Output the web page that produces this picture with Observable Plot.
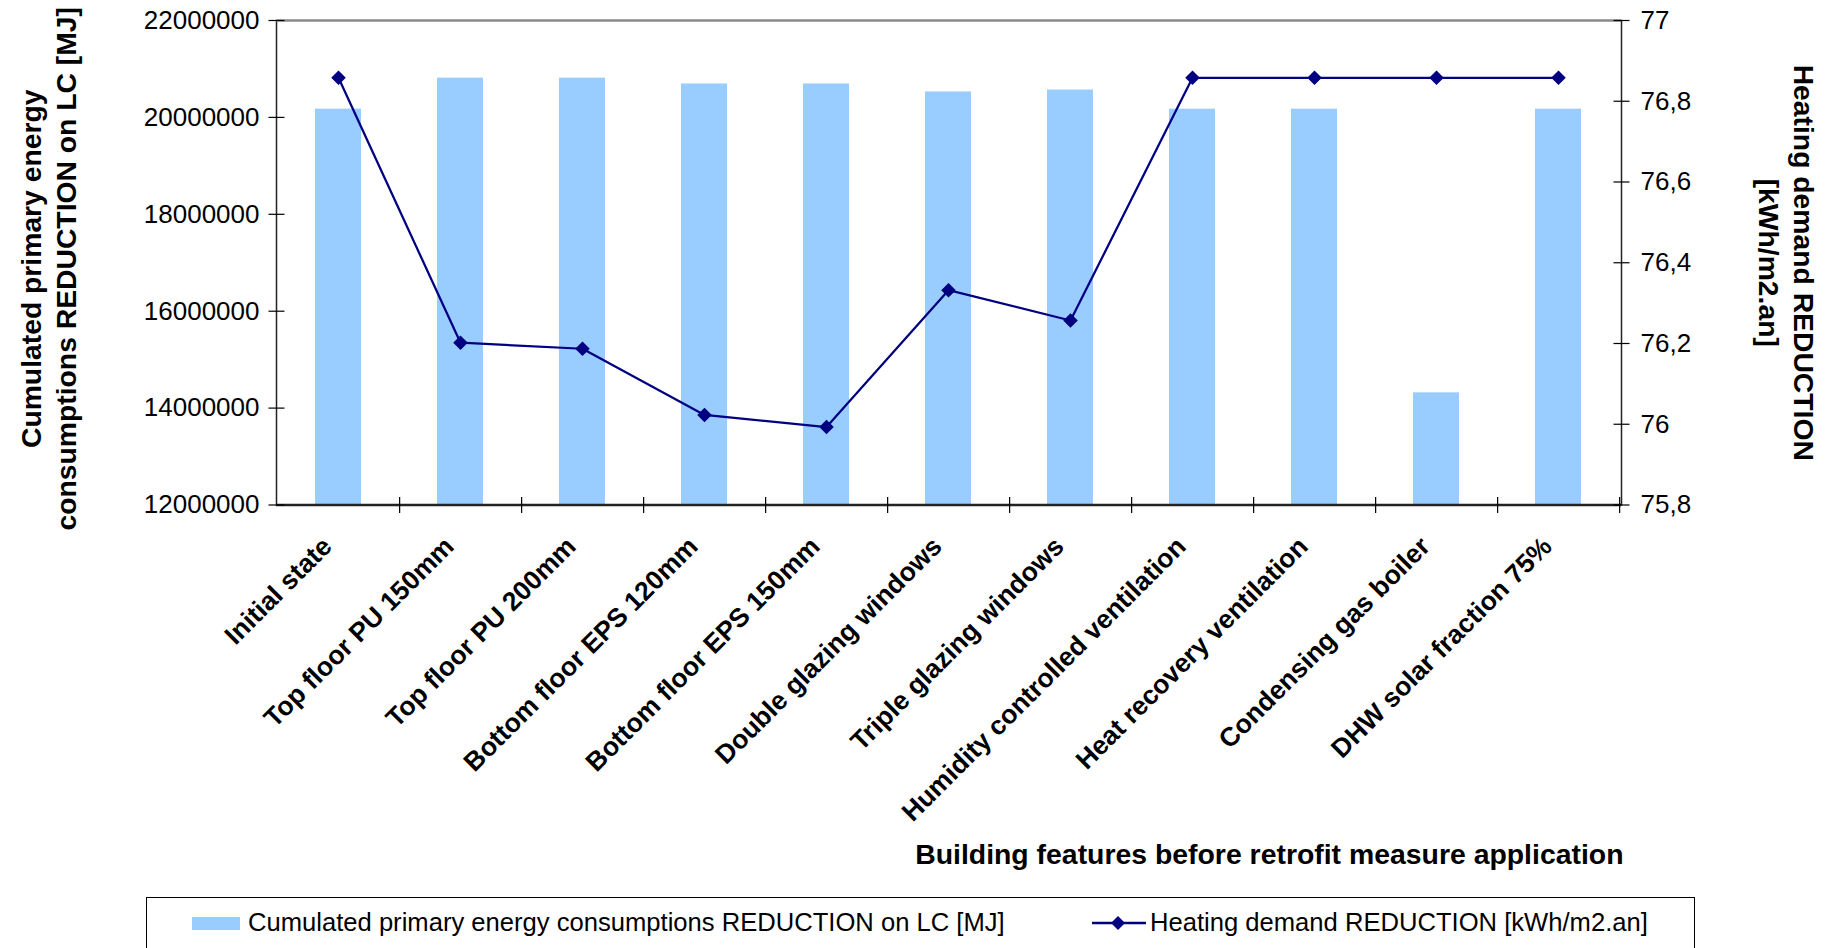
<!DOCTYPE html>
<html><head><meta charset="utf-8">
<script src="https://cdn.jsdelivr.net/npm/d3@7"></script>
<script src="https://cdn.jsdelivr.net/npm/@observablehq/plot@0.6"></script>
<style>
body{margin:0;background:#fff;font-family:"Liberation Sans",Arial,sans-serif;}
#wrap{position:relative;width:1827px;height:948px;overflow:hidden;background:#fff;}
#chart{position:absolute;left:0;top:0;}
#legendbox{position:absolute;left:146px;top:897px;width:1549px;height:80px;border:1px solid #000;box-sizing:border-box;}
.lg{position:absolute;font-size:25.6px;line-height:30px;color:#000;white-space:nowrap;}
.sw{position:absolute;}
</style></head><body>
<div id="wrap"><div id="chart"></div>
<div id="legendbox"></div>
<div class="sw" style="left:192px;top:917px;width:48px;height:13px;background:#99ccff"></div>
<div class="lg" id="lt1" style="left:248px;top:907px"></div>
<svg class="sw" style="left:1092px;top:910px" width="54" height="26"><line x1="0" y1="13" x2="54" y2="13" stroke="#000080" stroke-width="2.5"/><path d="M26,6 L33,13 L26,20 L19,13 Z" fill="#000080"/></svg>
<div class="lg" id="lt2" style="left:1150px;top:907px"></div>
</div>
<script>
const categories = ["Initial state","Top floor PU 150mm","Top floor PU 200mm","Bottom floor EPS 120mm","Bottom floor EPS 150mm","Double glazing windows","Triple glazing windows","Humidity controlled ventilation","Heat recovery ventilation","Condensing gas boiler","DHW solar fraction 75%"];
const energyReduction = [20170000,20810000,20810000,20690000,20690000,20525000,20565000,20170000,20170000,14315000,20170000];
const heatingReduction = [76.858,76.202,76.187,76.023,75.993,76.332,76.257,76.858,76.858,76.858,76.858];
const leftTicks = [12000000,14000000,16000000,18000000,20000000,22000000];
const rightTicks = [75.8,76,76.2,76.4,76.6,76.8,77];
const leftDomain = [12000000,22000000];
const rightDomain = [75.8,77];
const energyName = "Cumulated primary energy consumptions REDUCTION on LC [MJ]";
const heatingName = "Heating demand REDUCTION [kWh/m2.an]";
const leftTitle = "Cumulated primary energy\nconsumptions REDUCTION on LC [MJ]";
const rightTitle = "Heating demand REDUCTION\n[kWh/m2.an]";
const xTitle = "Building features before retrofit measure application";

document.getElementById("lt1").textContent = energyName;
document.getElementById("lt2").textContent = heatingName;

const toLeft = v => leftDomain[0] + (v - rightDomain[0]) / (rightDomain[1] - rightDomain[0]) * (leftDomain[1] - leftDomain[0]);
const toRight = v => rightDomain[0] + (v - leftDomain[0]) / (leftDomain[1] - leftDomain[0]) * (rightDomain[1] - rightDomain[0]);
const data = categories.map((c, i) => ({category: c, energy: energyReduction[i], heating: heatingReduction[i], heatingL: toLeft(heatingReduction[i])}));
const rightTicksL = rightTicks.map(toLeft);
const fmtRight = d => String(+toRight(d).toFixed(1)).replace(".", ",");

const W = 1827, H = 895, mL = 276, mR = 206, mT = 20, mB = H - 504.5;
const step = (W - mL - mR) / categories.length;
const font = "'Liberation Sans', Arial, sans-serif";

// custom tick symbols (crossing tick marks, 16px long)
const hTick = {draw(ctx) { ctx.moveTo(-8, 0); ctx.lineTo(8, 0); }};
const vTick = {draw(ctx) { ctx.moveTo(0, -8); ctx.lineTo(0, 8); }};

const chart = Plot.plot({
  width: W, height: H, marginLeft: mL, marginRight: mR, marginTop: mT, marginBottom: mB,
  style: {fontFamily: font, fontSize: "26px", color: "#000", background: "#fff", overflow: "visible"},
  x: {domain: categories, paddingInner: 0.62, paddingOuter: 0.31, axis: null},
  y: {domain: leftDomain, axis: null},
  marks: [
    Plot.barY(data, {x: "category", y1: leftDomain[0], y2: "energy", fill: "#99ccff"}),
    Plot.frame({stroke: "#222", strokeWidth: 1.5}),
    Plot.ruleY([leftDomain[1]], {stroke: "#888", strokeWidth: 2}),
    Plot.ruleY([leftDomain[0]], {stroke: "#222", strokeWidth: 2.5}),
    // left axis
    Plot.dot(leftTicks, {y: d => d, frameAnchor: "left", symbol: hTick, stroke: "#000", fill: "none", strokeWidth: 1.2}),
    Plot.text(leftTicks, {y: d => d, frameAnchor: "left", dx: -17, textAnchor: "end", text: d => String(d), fontSize: 26}),
    // right axis
    Plot.dot(rightTicksL, {y: d => d, frameAnchor: "right", symbol: hTick, stroke: "#000", fill: "none", strokeWidth: 1.2}),
    Plot.text(rightTicksL, {y: d => d, frameAnchor: "right", dx: 19, textAnchor: "start", text: fmtRight, fontSize: 26}),
    // x axis boundary ticks and labels
    Plot.dot(categories, {x: d => d, frameAnchor: "bottom", symbol: vTick, dx: step / 2, stroke: "#000", fill: "none", strokeWidth: 1.2}),
    Plot.text(categories, {x: d => d, frameAnchor: "bottom", rotate: -45, textAnchor: "end", lineAnchor: "middle", dx: -11, dy: 37, fontWeight: "bold", fontSize: 26.5}),
    // heating line
    Plot.line(data, {x: "category", y: "heatingL", stroke: "#000080", strokeWidth: 2.25}),
    Plot.dot(data, {x: "category", y: "heatingL", symbol: "diamond2", r: 5.6, fill: "#000080", stroke: "#000080"}),
    // titles
    Plot.text([leftTitle], {frameAnchor: "left", rotate: -90, textAnchor: "middle", lineAnchor: "middle", dx: 46.5 - mL, dy: 6, fontWeight: "bold", fontSize: 28.3, lineHeight: 1.25}),
    Plot.text([rightTitle], {frameAnchor: "right", rotate: 90, textAnchor: "middle", lineAnchor: "middle", dx: 166, fontWeight: "bold", fontSize: 28.3, lineHeight: 1.25}),
    Plot.text([xTitle], {frameAnchor: "bottom-right", textAnchor: "end", lineAnchor: "middle", dx: 2, dy: 854 - 504.5, fontWeight: "bold", fontSize: 28.4})
  ]
});
document.getElementById("chart").appendChild(chart);
</script>
</body></html>
